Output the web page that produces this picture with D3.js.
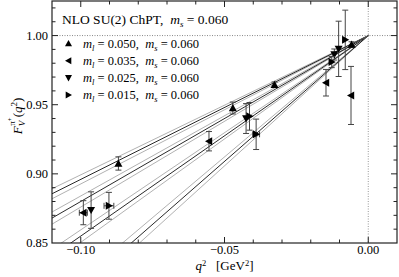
<!DOCTYPE html>
<html>
<head>
<meta charset="utf-8">
<script src="https://cdn.jsdelivr.net/npm/d3@7"></script>
<style>
  html, body { margin: 0; padding: 0; background: #fff; }
  svg { display: block; }
  svg text { font-family: 'Liberation Serif', 'Times New Roman', 'DejaVu Serif', serif; fill: #000; }
</style>
</head>
<body>
<svg id="chart" width="399" height="277"></svg>
<script>
// ---- data ----
const mlValues = ["0.050", "0.035", "0.025", "0.015"];
const msValue = "0.060";
const markerShapes = ["up", "left", "down", "right"];

const q2Up = [-0.0869, -0.0471, -0.0326, -0.0058];
const fUp = [0.9075, 0.9476, 0.9644, 0.9935];
const errUp = [0.0048, 0.0043, 0.0020, 0.0020];
const xerrUp = [0, 0, 0, 0];

const q2Left = [-0.0991, -0.0554, -0.0147, -0.0060];
const fLeft = [0.8719, 0.9236, 0.9659, 0.9567];
const errLeft = [0.0087, 0.0070, 0.0096, 0.0210];
const xerrLeft = [0.0014, 0, 0, 0];

const q2Down = [-0.0964, -0.0425, -0.0118, -0.0103];
const fDown = [0.8738, 0.9400, 0.9863, 0.9904];
const errDown = [0.0132, 0.0108, 0.0040, 0.0200];
const xerrDown = [0, 0, 0, 0];

const q2Right = [-0.0902, -0.0413, -0.0390, -0.0127, -0.0080];
const fRight = [0.8769, 0.9416, 0.9286, 0.9808, 0.9969];
const errRight = [0.0097, 0.0100, 0.0110, 0.0040, 0.0215];
const xerrRight = [0.0017, 0, 0.0012, 0, 0];

// NLO fit: F = 1 + slope * q^2  (centre and error band)
const fitSlope = [1.04, 1.20, 1.45, 1.82];
const fitSlopeErr = [0.033, 0.040, 0.045, 0.065];

const xTicks = [-0.10, -0.05, 0.00];
const yTicks = [0.85, 0.90, 0.95, 1.00];

// ---- layout ----
const FONT = "'Liberation Serif', 'Times New Roman', 'DejaVu Serif', serif";
const svg = d3.select("#chart");
const L = 52, R = 397, T = 1, B = 243;
const x = d3.scaleLinear().domain([-0.11, 0.01]).range([L, R]);
const y = d3.scaleLinear().domain([0.85, 1.025]).range([B, T]);

svg.append("defs").append("clipPath").attr("id", "clip")
  .append("rect").attr("x", L).attr("y", T).attr("width", R - L).attr("height", B - T);

const plot = svg.append("g").attr("clip-path", "url(#clip)");

// reference dotted lines
plot.append("line").attr("x1", L).attr("x2", R).attr("y1", y(1)).attr("y2", y(1))
  .attr("stroke", "#888").attr("stroke-width", 1).attr("stroke-dasharray", "1,1.5");
plot.append("line").attr("x1", x(0)).attr("x2", x(0)).attr("y1", T).attr("y2", B)
  .attr("stroke", "#999").attr("stroke-width", 1).attr("stroke-dasharray", "1,1.5");

// fit lines
const fitLine = d3.line().x(d => x(d[0])).y(d => y(d[1]));
const qEnds = [-0.11, 0];
fitSlope.forEach((s, i) => {
  const ds = fitSlopeErr[i];
  [s - ds, s + ds].forEach(sv => {
    plot.append("path").attr("d", fitLine(qEnds.map(q => [q, 1 + sv * q])))
      .attr("fill", "none").attr("stroke", "#a8a8a8").attr("stroke-width", 0.9);
  });
  plot.append("path").attr("d", fitLine(qEnds.map(q => [q, 1 + s * q])))
    .attr("fill", "none").attr("stroke", "#111").attr("stroke-width", 0.9);
});

// markers
function tri(shape, r) {
  const h = r;
  switch (shape) {
    case "up": return `M0,${-h}L${h},${h * 0.8}L${-h},${h * 0.8}Z`;
    case "down": return `M0,${h}L${h},${-h * 0.8}L${-h},${-h * 0.8}Z`;
    case "left": return `M${-h},0L${h * 0.8},${-h}L${h * 0.8},${h}Z`;
    case "right": return `M${h},0L${-h * 0.8},${-h}L${-h * 0.8},${h}Z`;
  }
}

const allSeries = [
  { q: q2Up, f: fUp, e: errUp, xe: xerrUp },
  { q: q2Left, f: fLeft, e: errLeft, xe: xerrLeft },
  { q: q2Down, f: fDown, e: errDown, xe: xerrDown },
  { q: q2Right, f: fRight, e: errRight, xe: xerrRight }
];

const cap = 3;
allSeries.forEach((sr, i) => {
  const g = plot.append("g");
  sr.q.forEach((q, j) => {
    const cx = x(q), cy = y(sr.f[j]);
    const y1 = y(sr.f[j] + sr.e[j]), y2 = y(sr.f[j] - sr.e[j]);
    const eg = g.append("g").attr("stroke", "#444").attr("stroke-width", 1);
    eg.append("line").attr("x1", cx).attr("x2", cx).attr("y1", y1).attr("y2", y2);
    eg.append("line").attr("x1", cx - cap).attr("x2", cx + cap).attr("y1", y1).attr("y2", y1);
    eg.append("line").attr("x1", cx - cap).attr("x2", cx + cap).attr("y1", y2).attr("y2", y2);
    if (sr.xe[j] > 0) {
      const x1 = x(q - sr.xe[j]), x2 = x(q + sr.xe[j]);
      eg.append("line").attr("x1", x1).attr("x2", x2).attr("y1", cy).attr("y2", cy);
      eg.append("line").attr("x1", x1).attr("x2", x1).attr("y1", cy - cap).attr("y2", cy + cap);
      eg.append("line").attr("x1", x2).attr("x2", x2).attr("y1", cy - cap).attr("y2", cy + cap);
    }
  });
  sr.q.forEach((q, j) => {
    g.append("path").attr("d", tri(markerShapes[i], 4))
      .attr("transform", `translate(${x(q)},${y(sr.f[j])})`)
      .attr("fill", "#000");
  });
});

// frame
svg.append("rect").attr("x", L).attr("y", T).attr("width", R - L).attr("height", B - T)
  .attr("fill", "none").attr("stroke", "#222").attr("stroke-width", 1.2);

// ticks (inward, mirrored)
const fmt = d3.format(".2f");
const xMinor = d3.range(-11, 2).map(k => k * 0.01);
const yMinor = d3.range(85, 103).map(k => k * 0.01);
const tg = svg.append("g").attr("stroke", "#222").attr("stroke-width", 1);
xMinor.forEach(v => {
  const major = xTicks.some(t => Math.abs(t - v) < 1e-9);
  const len = major ? 6 : 3.5;
  const px = x(v);
  if (px <= L + 0.5 || px >= R - 0.5) return;
  tg.append("line").attr("x1", px).attr("x2", px).attr("y1", B).attr("y2", B - len);
  tg.append("line").attr("x1", px).attr("x2", px).attr("y1", T).attr("y2", T + len);
});
yMinor.forEach(v => {
  const major = yTicks.some(t => Math.abs(t - v) < 1e-9);
  const len = major ? 6 : 3.5;
  const py = y(v);
  if (py >= B - 0.5 || py <= T + 0.5) return;
  tg.append("line").attr("x1", L).attr("x2", L + len).attr("y1", py).attr("y2", py);
  tg.append("line").attr("x1", R).attr("x2", R - len).attr("y1", py).attr("y2", py);
});

// tick labels
xTicks.forEach(v => {
  svg.append("text").attr("font-family", FONT).attr("x", x(v)).attr("y", 254).attr("text-anchor", "middle")
    .attr("font-size", 12.5).text(fmt(v));
});
yTicks.forEach(v => {
  svg.append("text").attr("font-family", FONT).attr("x", 48).attr("y", y(v) + 4).attr("text-anchor", "end")
    .attr("font-size", 12.5).text(fmt(v));
});

// axis titles
const xl = svg.append("text").attr("font-family", FONT).attr("x", (L + R) / 2).attr("y", 270)
  .attr("text-anchor", "middle").attr("font-size", 13);
xl.append("tspan").attr("font-style", "italic").text("q");
xl.append("tspan").attr("font-size", 8.5).attr("dy", -4).text("2");
xl.append("tspan").attr("dy", 4).text("\u2002 [GeV");
xl.append("tspan").attr("font-size", 8.5).attr("dy", -4).text("2");
xl.append("tspan").attr("dy", 4).text("]");

const yl = svg.append("text").attr("font-family", FONT).attr("transform", `translate(22,116) rotate(-90)`)
  .attr("text-anchor", "middle").attr("font-size", 13);
yl.append("tspan").attr("font-style", "italic").text("F");
yl.append("tspan").attr("font-style", "italic").attr("font-size", 9).attr("dy", 3).text("V");
yl.append("tspan").attr("font-size", 9).attr("dy", -10).attr("dx", -5).text("\u03c0");
yl.append("tspan").attr("font-size", 7).attr("dy", -3).text("+");
yl.append("tspan").attr("dy", 10).text("(");
yl.append("tspan").attr("font-style", "italic").text("q");
yl.append("tspan").attr("font-size", 9).attr("dy", -5).text("2");
yl.append("tspan").attr("dy", 5).text(")");

// legend
const title = svg.append("text").attr("font-family", FONT).attr("x", 62).attr("y", 24).attr("font-size", 13.5);
title.append("tspan").text("NLO SU(2) ChPT,\u2002");
title.append("tspan").attr("font-style", "italic").text("m");
title.append("tspan").attr("font-style", "italic").attr("font-size", 9).attr("dy", 3).text("s");
title.append("tspan").attr("dy", -3).text(" = " + msValue);

mlValues.forEach((ml, i) => {
  const cy = 43.5 + i * 17.2;
  svg.append("path").attr("d", tri(markerShapes[i], 3.5))
    .attr("transform", `translate(68.5,${cy})`).attr("fill", "#000");
  const t = svg.append("text").attr("font-family", FONT).attr("x", 83).attr("y", cy + 4).attr("font-size", 12.5);
  t.append("tspan").attr("font-style", "italic").text("m");
  t.append("tspan").attr("font-style", "italic").attr("font-size", 8.5).attr("dy", 3).text("l");
  t.append("tspan").attr("dy", -3).text(" = " + ml + ",\u2002");
  t.append("tspan").attr("font-style", "italic").text("m");
  t.append("tspan").attr("font-style", "italic").attr("font-size", 8.5).attr("dy", 3).text("s");
  t.append("tspan").attr("dy", -3).text(" = " + msValue);
});
</script>
</body>
</html>
